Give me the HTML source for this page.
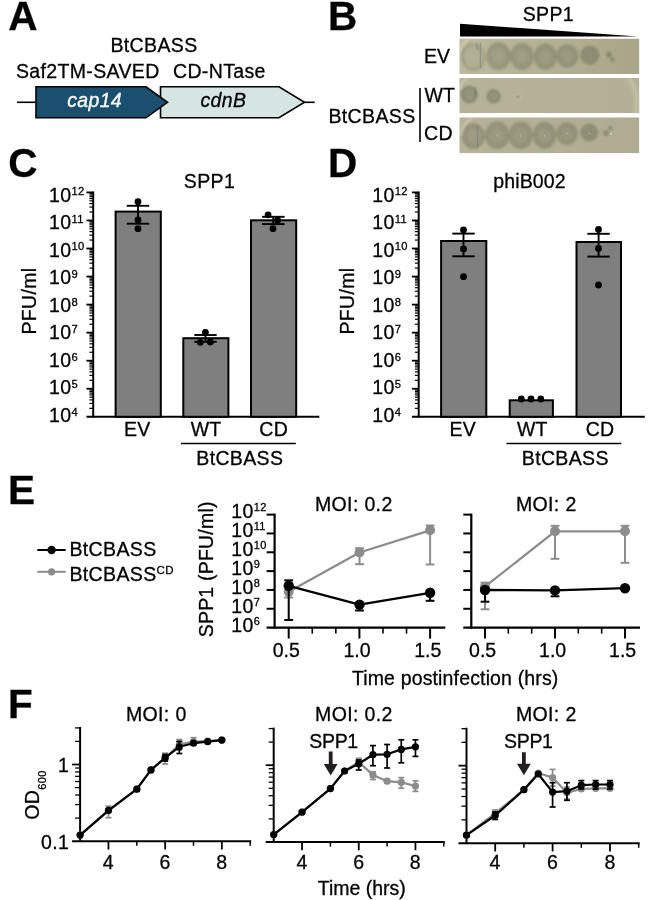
<!DOCTYPE html>
<html lang="en"><head><meta charset="utf-8"><title>BtCBASS figure</title>
<style>html,body{margin:0;padding:0;background:#fff;}body{width:660px;height:900px;overflow:hidden;}svg{display:block;}svg text{font-family:"Liberation Sans", Arial, Helvetica, sans-serif;letter-spacing:0.35px;stroke:#000;stroke-width:0.3px;}</style>
</head><body>
<svg width="660" height="900" viewBox="0 0 660 900">
<rect width="660" height="900" fill="#fff"/>
<g opacity="0.999">
<defs>
<linearGradient id="plateBg1" x1="0" y1="0" x2="1" y2="0"><stop offset="0" stop-color="#bdb99c"/><stop offset="0.45" stop-color="#b5b194"/><stop offset="1" stop-color="#a9a589"/></linearGradient>
<linearGradient id="plateBg2" x1="0" y1="0" x2="1" y2="0"><stop offset="0" stop-color="#b6b297"/><stop offset="0.6" stop-color="#b5b197"/><stop offset="1" stop-color="#b4b096"/></linearGradient>
<linearGradient id="plateBg3" x1="0" y1="0" x2="1" y2="0"><stop offset="0" stop-color="#b7b398"/><stop offset="0.5" stop-color="#b3af94"/><stop offset="1" stop-color="#afab90"/></linearGradient>
<radialGradient id="spotA"><stop offset="0" stop-color="#48493a" stop-opacity="0.2"/><stop offset="0.5" stop-color="#48493a" stop-opacity="0.21"/><stop offset="0.62" stop-color="#48493a" stop-opacity="0.27"/><stop offset="0.93" stop-color="#48493a" stop-opacity="0.27"/><stop offset="1" stop-color="#48493a" stop-opacity="0.15"/></radialGradient>
<radialGradient id="spotA3"><stop offset="0" stop-color="#48493a" stop-opacity="0.2"/><stop offset="0.45" stop-color="#48493a" stop-opacity="0.22"/><stop offset="0.58" stop-color="#48493a" stop-opacity="0.29"/><stop offset="0.93" stop-color="#48493a" stop-opacity="0.29"/><stop offset="1" stop-color="#48493a" stop-opacity="0.16"/></radialGradient>
<radialGradient id="spotL"><stop offset="0" stop-color="#48493a" stop-opacity="0.06"/><stop offset="0.7" stop-color="#48493a" stop-opacity="0.09"/><stop offset="0.9" stop-color="#48493a" stop-opacity="0.23"/><stop offset="1" stop-color="#48493a" stop-opacity="0.12"/></radialGradient>
<radialGradient id="spotB"><stop offset="0" stop-color="#45473a" stop-opacity="0.3"/><stop offset="0.85" stop-color="#45473a" stop-opacity="0.32"/><stop offset="1" stop-color="#45473a" stop-opacity="0.15"/></radialGradient>
<radialGradient id="spotW"><stop offset="0" stop-color="#45473a" stop-opacity="0.25"/><stop offset="0.6" stop-color="#45473a" stop-opacity="0.3"/><stop offset="0.9" stop-color="#45473a" stop-opacity="0.42"/><stop offset="1" stop-color="#45473a" stop-opacity="0.2"/></radialGradient>
<radialGradient id="spotD"><stop offset="0" stop-color="#45473a" stop-opacity="0.4"/><stop offset="1" stop-color="#45473a" stop-opacity="0.25"/></radialGradient>
<radialGradient id="spotC"><stop offset="0" stop-color="#4b4b40" stop-opacity="0.8"/><stop offset="1" stop-color="#4b4b40" stop-opacity="0.3"/></radialGradient>
<filter id="blur1" x="-20%" y="-20%" width="140%" height="140%"><feGaussianBlur stdDeviation="0.8"/></filter>
<filter id="blur2" x="-30%" y="-30%" width="160%" height="160%"><feGaussianBlur stdDeviation="1.5"/></filter>
</defs>
<text x="8.20" y="29.80" font-size="40.5" font-weight="bold">A</text>
<text x="110.50" y="51.80" font-size="19.5">BtCBASS</text>
<text x="16.00" y="77.50" font-size="19.5">Saf2TM-SAVED</text>
<text x="173.00" y="77.50" font-size="19.5">CD-NTase</text>
<line x1="17.00" y1="102.30" x2="36.00" y2="102.30" stroke="#000" stroke-width="1.6" stroke-linecap="butt"/>
<line x1="303.00" y1="102.30" x2="314.70" y2="102.30" stroke="#000" stroke-width="1.6" stroke-linecap="butt"/>
<polygon points="160.5,86.8 279,86.8 304.5,102.3 279,117.8 160.5,117.8" fill="#d5e5e1" stroke="#000" stroke-width="1.6" stroke-linejoin="miter"/>
<polygon points="36,86.8 146,86.8 167.5,102.3 146,117.8 36,117.8" fill="#1b4f6f" stroke="#000" stroke-width="1.6" stroke-linejoin="miter"/>
<text x="94.60" y="107.00" font-size="19.5" text-anchor="middle" font-style="italic" style="fill:#fff;stroke:#fff">cap14</text>
<text x="223.40" y="107.00" font-size="19.5" text-anchor="middle" font-style="italic">cdnB</text>
<text x="327.90" y="29.80" font-size="40.5" font-weight="bold">B</text>
<text x="548.40" y="21.30" font-size="19.5" text-anchor="middle">SPP1</text>
<polygon points="460,23.8 460,36.4 638,36.4" fill="#000"/>
<text x="424.00" y="62.50" font-size="19.5" style="letter-spacing:0px">EV</text>
<text x="424.50" y="102.00" font-size="19.5" style="letter-spacing:0px">WT</text>
<text x="424.00" y="140.00" font-size="19.5">CD</text>
<text x="328.50" y="122.50" font-size="19.5">BtCBASS</text>
<line x1="420.00" y1="88.00" x2="420.00" y2="142.00" stroke="#000" stroke-width="1.6" stroke-linecap="butt"/>
<defs>
<clipPath id="clip0"><rect x="459.3" y="38.5" width="180.1" height="35.5"/></clipPath>
<clipPath id="clip1"><rect x="459.3" y="77.9" width="180.1" height="35.3"/></clipPath>
<clipPath id="clip2"><rect x="459.3" y="117.3" width="180.1" height="36.0"/></clipPath>
</defs>
<g clip-path="url(#clip0)">
<rect x="459.3" y="38.5" width="180.1" height="35.5" fill="url(#plateBg1)"/>
<ellipse cx="473.2" cy="57.1" rx="12.3" ry="14.2" fill="url(#spotL)" filter="url(#blur1)"/>
<ellipse cx="498.5" cy="56.1" rx="12.6" ry="14.3" fill="url(#spotA)" filter="url(#blur1)"/>
<ellipse cx="522" cy="56.6" rx="12.2" ry="13.8" fill="url(#spotA)" filter="url(#blur1)"/>
<ellipse cx="545.3" cy="56.6" rx="11.8" ry="13.4" fill="url(#spotA)" filter="url(#blur1)"/>
<ellipse cx="567.3" cy="56.1" rx="11.3" ry="12" fill="url(#spotA)" filter="url(#blur1)"/>
<ellipse cx="589.9" cy="55.2" rx="10" ry="10" fill="url(#spotB)" filter="url(#blur1)"/>
<ellipse cx="608.8" cy="54.5" rx="3.1" ry="3.1" fill="url(#spotD)" filter="url(#blur1)"/>
<ellipse cx="612.4" cy="59.5" rx="2.4" ry="2.4" fill="url(#spotD)" filter="url(#blur1)"/>
</g>
<g clip-path="url(#clip0)">
<path d="M460.3,52 Q462,42 470,38.5" fill="none" stroke="#d8d6c4" stroke-width="1.6" opacity="0.8" filter="url(#blur1)"/>
<path d="M463.5,48 Q461.5,57 465,65" fill="none" stroke="#7d8587" stroke-width="1.2" opacity="0.55" filter="url(#blur1)"/>
<line x1="480.20" y1="43.00" x2="480.40" y2="68.00" stroke="#7e8a8e" stroke-width="0.9" stroke-linecap="butt"/>
<line x1="476.50" y1="43.50" x2="477.50" y2="50.00" stroke="#8a9496" stroke-width="1.5" stroke-linecap="butt"/>
</g>
<g clip-path="url(#clip1)">
<rect x="459.3" y="77.9" width="180.1" height="35.3" fill="url(#plateBg2)"/>
<ellipse cx="469.3" cy="94.5" rx="8.8" ry="8.8" fill="url(#spotW)" filter="url(#blur1)"/>
<ellipse cx="493.6" cy="96.4" rx="7.3" ry="7.3" fill="url(#spotW)" filter="url(#blur1)"/>
<ellipse cx="517.8" cy="96.7" rx="1.3" ry="1.3" fill="url(#spotC)" filter="url(#blur1)"/>
</g>
<g clip-path="url(#clip1)">
<path d="M459.8,90 Q461,81 468,78" fill="none" stroke="#d8d6c4" stroke-width="1.6" opacity="0.8" filter="url(#blur1)"/>
<path d="M474.5,87.5 L476.5,96" fill="none" stroke="#5f6f7a" stroke-width="1.3" opacity="0.7" filter="url(#blur1)"/>
<path d="M628,78 Q640,92 636,113" fill="none" stroke="#c6c3ab" stroke-width="5" opacity="0.7" filter="url(#blur2)"/>
<circle cx="517.8" cy="96.7" r="3.4" fill="none" stroke="#c4c1a8" stroke-width="1" opacity="0.7" filter="url(#blur1)"/>
</g>
<g clip-path="url(#clip2)">
<rect x="459.3" y="117.3" width="180.1" height="36.0" fill="url(#plateBg3)"/>
<ellipse cx="473.4" cy="136" rx="11.8" ry="13.2" fill="url(#spotA3)" filter="url(#blur1)"/>
<ellipse cx="497.2" cy="135.3" rx="12.6" ry="14.2" fill="url(#spotA3)" filter="url(#blur1)"/>
<ellipse cx="520.8" cy="135.3" rx="12.3" ry="14" fill="url(#spotA3)" filter="url(#blur1)"/>
<ellipse cx="544.6" cy="135.3" rx="12" ry="13.6" fill="url(#spotA3)" filter="url(#blur1)"/>
<ellipse cx="567" cy="133.6" rx="11" ry="11.6" fill="url(#spotA3)" filter="url(#blur1)"/>
<ellipse cx="589.2" cy="132.5" rx="9.2" ry="9.2" fill="url(#spotB)" filter="url(#blur1)"/>
<ellipse cx="606" cy="133.2" rx="3" ry="3" fill="url(#spotD)" filter="url(#blur1)"/>
<ellipse cx="610.3" cy="128" rx="2.3" ry="2.3" fill="url(#spotD)" filter="url(#blur1)"/>
</g>
<g clip-path="url(#clip2)">
<path d="M461,135 Q462,124 472.5,117.5" fill="none" stroke="#d8d6c4" stroke-width="1.6" opacity="0.8" filter="url(#blur1)"/>
<line x1="477.00" y1="124.80" x2="477.60" y2="148.20" stroke="#75838a" stroke-width="0.9" stroke-linecap="butt"/>
<circle cx="497.20" cy="135.80" r="0.6" fill="#cfcfc0"/>
<circle cx="520.80" cy="135.80" r="0.6" fill="#cfcfc0"/>
<circle cx="544.60" cy="135.80" r="0.6" fill="#cfcfc0"/>
<circle cx="567.00" cy="133.40" r="0.6" fill="#cfcfc0"/>
<circle cx="589.20" cy="133.40" r="0.6" fill="#cfcfc0"/>
<circle cx="611.20" cy="134.00" r="0.9" fill="#dedccc"/>
</g>
<text x="8.30" y="177.20" font-size="40.5" font-weight="bold">C</text>
<line x1="93.20" y1="191.50" x2="93.20" y2="417.70" stroke="#000" stroke-width="2" stroke-linecap="butt"/>
<line x1="86.40" y1="416.80" x2="319.30" y2="416.80" stroke="#000" stroke-width="2" stroke-linecap="butt"/>
<line x1="89.40" y1="408.36" x2="93.20" y2="408.36" stroke="#000" stroke-width="1.2" stroke-linecap="butt"/>
<line x1="89.40" y1="403.42" x2="93.20" y2="403.42" stroke="#000" stroke-width="1.2" stroke-linecap="butt"/>
<line x1="89.40" y1="399.91" x2="93.20" y2="399.91" stroke="#000" stroke-width="1.2" stroke-linecap="butt"/>
<line x1="89.40" y1="397.19" x2="93.20" y2="397.19" stroke="#000" stroke-width="1.2" stroke-linecap="butt"/>
<line x1="89.40" y1="394.97" x2="93.20" y2="394.97" stroke="#000" stroke-width="1.2" stroke-linecap="butt"/>
<line x1="89.40" y1="393.09" x2="93.20" y2="393.09" stroke="#000" stroke-width="1.2" stroke-linecap="butt"/>
<line x1="89.40" y1="391.47" x2="93.20" y2="391.47" stroke="#000" stroke-width="1.2" stroke-linecap="butt"/>
<line x1="89.40" y1="390.03" x2="93.20" y2="390.03" stroke="#000" stroke-width="1.2" stroke-linecap="butt"/>
<line x1="86.40" y1="388.75" x2="93.20" y2="388.75" stroke="#000" stroke-width="1.8" stroke-linecap="butt"/>
<line x1="89.40" y1="380.31" x2="93.20" y2="380.31" stroke="#000" stroke-width="1.2" stroke-linecap="butt"/>
<line x1="89.40" y1="375.37" x2="93.20" y2="375.37" stroke="#000" stroke-width="1.2" stroke-linecap="butt"/>
<line x1="89.40" y1="371.86" x2="93.20" y2="371.86" stroke="#000" stroke-width="1.2" stroke-linecap="butt"/>
<line x1="89.40" y1="369.14" x2="93.20" y2="369.14" stroke="#000" stroke-width="1.2" stroke-linecap="butt"/>
<line x1="89.40" y1="366.92" x2="93.20" y2="366.92" stroke="#000" stroke-width="1.2" stroke-linecap="butt"/>
<line x1="89.40" y1="365.04" x2="93.20" y2="365.04" stroke="#000" stroke-width="1.2" stroke-linecap="butt"/>
<line x1="89.40" y1="363.42" x2="93.20" y2="363.42" stroke="#000" stroke-width="1.2" stroke-linecap="butt"/>
<line x1="89.40" y1="361.98" x2="93.20" y2="361.98" stroke="#000" stroke-width="1.2" stroke-linecap="butt"/>
<line x1="86.40" y1="360.70" x2="93.20" y2="360.70" stroke="#000" stroke-width="1.8" stroke-linecap="butt"/>
<line x1="89.40" y1="352.26" x2="93.20" y2="352.26" stroke="#000" stroke-width="1.2" stroke-linecap="butt"/>
<line x1="89.40" y1="347.32" x2="93.20" y2="347.32" stroke="#000" stroke-width="1.2" stroke-linecap="butt"/>
<line x1="89.40" y1="343.81" x2="93.20" y2="343.81" stroke="#000" stroke-width="1.2" stroke-linecap="butt"/>
<line x1="89.40" y1="341.09" x2="93.20" y2="341.09" stroke="#000" stroke-width="1.2" stroke-linecap="butt"/>
<line x1="89.40" y1="338.87" x2="93.20" y2="338.87" stroke="#000" stroke-width="1.2" stroke-linecap="butt"/>
<line x1="89.40" y1="336.99" x2="93.20" y2="336.99" stroke="#000" stroke-width="1.2" stroke-linecap="butt"/>
<line x1="89.40" y1="335.37" x2="93.20" y2="335.37" stroke="#000" stroke-width="1.2" stroke-linecap="butt"/>
<line x1="89.40" y1="333.93" x2="93.20" y2="333.93" stroke="#000" stroke-width="1.2" stroke-linecap="butt"/>
<line x1="86.40" y1="332.65" x2="93.20" y2="332.65" stroke="#000" stroke-width="1.8" stroke-linecap="butt"/>
<line x1="89.40" y1="324.21" x2="93.20" y2="324.21" stroke="#000" stroke-width="1.2" stroke-linecap="butt"/>
<line x1="89.40" y1="319.27" x2="93.20" y2="319.27" stroke="#000" stroke-width="1.2" stroke-linecap="butt"/>
<line x1="89.40" y1="315.76" x2="93.20" y2="315.76" stroke="#000" stroke-width="1.2" stroke-linecap="butt"/>
<line x1="89.40" y1="313.04" x2="93.20" y2="313.04" stroke="#000" stroke-width="1.2" stroke-linecap="butt"/>
<line x1="89.40" y1="310.82" x2="93.20" y2="310.82" stroke="#000" stroke-width="1.2" stroke-linecap="butt"/>
<line x1="89.40" y1="308.94" x2="93.20" y2="308.94" stroke="#000" stroke-width="1.2" stroke-linecap="butt"/>
<line x1="89.40" y1="307.32" x2="93.20" y2="307.32" stroke="#000" stroke-width="1.2" stroke-linecap="butt"/>
<line x1="89.40" y1="305.88" x2="93.20" y2="305.88" stroke="#000" stroke-width="1.2" stroke-linecap="butt"/>
<line x1="86.40" y1="304.60" x2="93.20" y2="304.60" stroke="#000" stroke-width="1.8" stroke-linecap="butt"/>
<line x1="89.40" y1="296.16" x2="93.20" y2="296.16" stroke="#000" stroke-width="1.2" stroke-linecap="butt"/>
<line x1="89.40" y1="291.22" x2="93.20" y2="291.22" stroke="#000" stroke-width="1.2" stroke-linecap="butt"/>
<line x1="89.40" y1="287.71" x2="93.20" y2="287.71" stroke="#000" stroke-width="1.2" stroke-linecap="butt"/>
<line x1="89.40" y1="284.99" x2="93.20" y2="284.99" stroke="#000" stroke-width="1.2" stroke-linecap="butt"/>
<line x1="89.40" y1="282.77" x2="93.20" y2="282.77" stroke="#000" stroke-width="1.2" stroke-linecap="butt"/>
<line x1="89.40" y1="280.89" x2="93.20" y2="280.89" stroke="#000" stroke-width="1.2" stroke-linecap="butt"/>
<line x1="89.40" y1="279.27" x2="93.20" y2="279.27" stroke="#000" stroke-width="1.2" stroke-linecap="butt"/>
<line x1="89.40" y1="277.83" x2="93.20" y2="277.83" stroke="#000" stroke-width="1.2" stroke-linecap="butt"/>
<line x1="86.40" y1="276.55" x2="93.20" y2="276.55" stroke="#000" stroke-width="1.8" stroke-linecap="butt"/>
<line x1="89.40" y1="268.11" x2="93.20" y2="268.11" stroke="#000" stroke-width="1.2" stroke-linecap="butt"/>
<line x1="89.40" y1="263.17" x2="93.20" y2="263.17" stroke="#000" stroke-width="1.2" stroke-linecap="butt"/>
<line x1="89.40" y1="259.66" x2="93.20" y2="259.66" stroke="#000" stroke-width="1.2" stroke-linecap="butt"/>
<line x1="89.40" y1="256.94" x2="93.20" y2="256.94" stroke="#000" stroke-width="1.2" stroke-linecap="butt"/>
<line x1="89.40" y1="254.72" x2="93.20" y2="254.72" stroke="#000" stroke-width="1.2" stroke-linecap="butt"/>
<line x1="89.40" y1="252.84" x2="93.20" y2="252.84" stroke="#000" stroke-width="1.2" stroke-linecap="butt"/>
<line x1="89.40" y1="251.22" x2="93.20" y2="251.22" stroke="#000" stroke-width="1.2" stroke-linecap="butt"/>
<line x1="89.40" y1="249.78" x2="93.20" y2="249.78" stroke="#000" stroke-width="1.2" stroke-linecap="butt"/>
<line x1="86.40" y1="248.50" x2="93.20" y2="248.50" stroke="#000" stroke-width="1.8" stroke-linecap="butt"/>
<line x1="89.40" y1="240.06" x2="93.20" y2="240.06" stroke="#000" stroke-width="1.2" stroke-linecap="butt"/>
<line x1="89.40" y1="235.12" x2="93.20" y2="235.12" stroke="#000" stroke-width="1.2" stroke-linecap="butt"/>
<line x1="89.40" y1="231.61" x2="93.20" y2="231.61" stroke="#000" stroke-width="1.2" stroke-linecap="butt"/>
<line x1="89.40" y1="228.89" x2="93.20" y2="228.89" stroke="#000" stroke-width="1.2" stroke-linecap="butt"/>
<line x1="89.40" y1="226.67" x2="93.20" y2="226.67" stroke="#000" stroke-width="1.2" stroke-linecap="butt"/>
<line x1="89.40" y1="224.79" x2="93.20" y2="224.79" stroke="#000" stroke-width="1.2" stroke-linecap="butt"/>
<line x1="89.40" y1="223.17" x2="93.20" y2="223.17" stroke="#000" stroke-width="1.2" stroke-linecap="butt"/>
<line x1="89.40" y1="221.73" x2="93.20" y2="221.73" stroke="#000" stroke-width="1.2" stroke-linecap="butt"/>
<line x1="86.40" y1="220.45" x2="93.20" y2="220.45" stroke="#000" stroke-width="1.8" stroke-linecap="butt"/>
<line x1="89.40" y1="212.01" x2="93.20" y2="212.01" stroke="#000" stroke-width="1.2" stroke-linecap="butt"/>
<line x1="89.40" y1="207.07" x2="93.20" y2="207.07" stroke="#000" stroke-width="1.2" stroke-linecap="butt"/>
<line x1="89.40" y1="203.56" x2="93.20" y2="203.56" stroke="#000" stroke-width="1.2" stroke-linecap="butt"/>
<line x1="89.40" y1="200.84" x2="93.20" y2="200.84" stroke="#000" stroke-width="1.2" stroke-linecap="butt"/>
<line x1="89.40" y1="198.62" x2="93.20" y2="198.62" stroke="#000" stroke-width="1.2" stroke-linecap="butt"/>
<line x1="89.40" y1="196.74" x2="93.20" y2="196.74" stroke="#000" stroke-width="1.2" stroke-linecap="butt"/>
<line x1="89.40" y1="195.12" x2="93.20" y2="195.12" stroke="#000" stroke-width="1.2" stroke-linecap="butt"/>
<line x1="89.40" y1="193.68" x2="93.20" y2="193.68" stroke="#000" stroke-width="1.2" stroke-linecap="butt"/>
<line x1="86.40" y1="192.40" x2="93.20" y2="192.40" stroke="#000" stroke-width="1.8" stroke-linecap="butt"/>
<text x="49.00" y="422.00" font-size="19.5">10<tspan font-size="11.2" dy="-6.2">4</tspan></text>
<text x="49.00" y="394.44" font-size="19.5">10<tspan font-size="11.2" dy="-6.2">5</tspan></text>
<text x="49.00" y="366.88" font-size="19.5">10<tspan font-size="11.2" dy="-6.2">6</tspan></text>
<text x="49.00" y="339.32" font-size="19.5">10<tspan font-size="11.2" dy="-6.2">7</tspan></text>
<text x="49.00" y="311.76" font-size="19.5">10<tspan font-size="11.2" dy="-6.2">8</tspan></text>
<text x="49.00" y="284.20" font-size="19.5">10<tspan font-size="11.2" dy="-6.2">9</tspan></text>
<text x="49.00" y="256.64" font-size="19.5">10<tspan font-size="11.2" dy="-6.2">10</tspan></text>
<text x="49.00" y="229.08" font-size="19.5">10<tspan font-size="11.2" dy="-6.2">11</tspan></text>
<text x="49.00" y="201.52" font-size="19.5">10<tspan font-size="11.2" dy="-6.2">12</tspan></text>
<text x="35.80" y="301.00" font-size="19.5" text-anchor="middle" transform="rotate(-90 35.80 301.00)">PFU/ml</text>
<text x="209.50" y="187.50" font-size="19.5" text-anchor="middle">SPP1</text>
<rect x="115.60" y="211.60" width="45.20" height="205.20" fill="#7f7f7f" stroke="#000" stroke-width="2"/>
<line x1="138.00" y1="205.80" x2="138.00" y2="223.70" stroke="#000" stroke-width="1.9" stroke-linecap="butt"/>
<line x1="126.80" y1="205.80" x2="149.20" y2="205.80" stroke="#000" stroke-width="1.9" stroke-linecap="butt"/>
<line x1="126.80" y1="223.70" x2="149.20" y2="223.70" stroke="#000" stroke-width="1.9" stroke-linecap="butt"/>
<circle cx="138.00" cy="201.70" r="3.4" fill="#000"/>
<circle cx="138.00" cy="220.00" r="3.4" fill="#000"/>
<circle cx="138.00" cy="228.70" r="3.4" fill="#000"/>
<rect x="183.30" y="338.20" width="45.10" height="78.60" fill="#7f7f7f" stroke="#000" stroke-width="2"/>
<line x1="205.50" y1="335.00" x2="205.50" y2="341.80" stroke="#000" stroke-width="1.9" stroke-linecap="butt"/>
<line x1="194.30" y1="335.00" x2="216.70" y2="335.00" stroke="#000" stroke-width="1.9" stroke-linecap="butt"/>
<line x1="194.30" y1="341.80" x2="216.70" y2="341.80" stroke="#000" stroke-width="1.9" stroke-linecap="butt"/>
<circle cx="205.40" cy="332.30" r="3.4" fill="#000"/>
<circle cx="200.30" cy="342.30" r="3.4" fill="#000"/>
<circle cx="210.30" cy="342.00" r="3.4" fill="#000"/>
<rect x="251.00" y="220.30" width="45.20" height="196.50" fill="#7f7f7f" stroke="#000" stroke-width="2"/>
<line x1="273.30" y1="216.80" x2="273.30" y2="224.10" stroke="#000" stroke-width="1.9" stroke-linecap="butt"/>
<line x1="262.00" y1="216.80" x2="284.60" y2="216.80" stroke="#000" stroke-width="1.9" stroke-linecap="butt"/>
<line x1="262.00" y1="224.10" x2="284.60" y2="224.10" stroke="#000" stroke-width="1.9" stroke-linecap="butt"/>
<circle cx="268.10" cy="214.80" r="3.4" fill="#000"/>
<circle cx="277.60" cy="220.20" r="3.4" fill="#000"/>
<circle cx="273.00" cy="228.70" r="3.4" fill="#000"/>
<text x="137.30" y="436.00" font-size="19.5" text-anchor="middle">EV</text>
<text x="205.90" y="436.00" font-size="19.5" text-anchor="middle" style="letter-spacing:0px">WT</text>
<text x="273.80" y="436.00" font-size="19.5" text-anchor="middle">CD</text>
<line x1="181.00" y1="443.50" x2="295.80" y2="443.50" stroke="#000" stroke-width="1.6" stroke-linecap="butt"/>
<text x="239.80" y="465.00" font-size="19.5" text-anchor="middle">BtCBASS</text>
<text x="327.90" y="177.20" font-size="40.5" font-weight="bold">D</text>
<line x1="418.70" y1="191.50" x2="418.70" y2="417.70" stroke="#000" stroke-width="2" stroke-linecap="butt"/>
<line x1="411.90" y1="416.80" x2="644.80" y2="416.80" stroke="#000" stroke-width="2" stroke-linecap="butt"/>
<line x1="414.90" y1="408.36" x2="418.70" y2="408.36" stroke="#000" stroke-width="1.2" stroke-linecap="butt"/>
<line x1="414.90" y1="403.42" x2="418.70" y2="403.42" stroke="#000" stroke-width="1.2" stroke-linecap="butt"/>
<line x1="414.90" y1="399.91" x2="418.70" y2="399.91" stroke="#000" stroke-width="1.2" stroke-linecap="butt"/>
<line x1="414.90" y1="397.19" x2="418.70" y2="397.19" stroke="#000" stroke-width="1.2" stroke-linecap="butt"/>
<line x1="414.90" y1="394.97" x2="418.70" y2="394.97" stroke="#000" stroke-width="1.2" stroke-linecap="butt"/>
<line x1="414.90" y1="393.09" x2="418.70" y2="393.09" stroke="#000" stroke-width="1.2" stroke-linecap="butt"/>
<line x1="414.90" y1="391.47" x2="418.70" y2="391.47" stroke="#000" stroke-width="1.2" stroke-linecap="butt"/>
<line x1="414.90" y1="390.03" x2="418.70" y2="390.03" stroke="#000" stroke-width="1.2" stroke-linecap="butt"/>
<line x1="411.90" y1="388.75" x2="418.70" y2="388.75" stroke="#000" stroke-width="1.8" stroke-linecap="butt"/>
<line x1="414.90" y1="380.31" x2="418.70" y2="380.31" stroke="#000" stroke-width="1.2" stroke-linecap="butt"/>
<line x1="414.90" y1="375.37" x2="418.70" y2="375.37" stroke="#000" stroke-width="1.2" stroke-linecap="butt"/>
<line x1="414.90" y1="371.86" x2="418.70" y2="371.86" stroke="#000" stroke-width="1.2" stroke-linecap="butt"/>
<line x1="414.90" y1="369.14" x2="418.70" y2="369.14" stroke="#000" stroke-width="1.2" stroke-linecap="butt"/>
<line x1="414.90" y1="366.92" x2="418.70" y2="366.92" stroke="#000" stroke-width="1.2" stroke-linecap="butt"/>
<line x1="414.90" y1="365.04" x2="418.70" y2="365.04" stroke="#000" stroke-width="1.2" stroke-linecap="butt"/>
<line x1="414.90" y1="363.42" x2="418.70" y2="363.42" stroke="#000" stroke-width="1.2" stroke-linecap="butt"/>
<line x1="414.90" y1="361.98" x2="418.70" y2="361.98" stroke="#000" stroke-width="1.2" stroke-linecap="butt"/>
<line x1="411.90" y1="360.70" x2="418.70" y2="360.70" stroke="#000" stroke-width="1.8" stroke-linecap="butt"/>
<line x1="414.90" y1="352.26" x2="418.70" y2="352.26" stroke="#000" stroke-width="1.2" stroke-linecap="butt"/>
<line x1="414.90" y1="347.32" x2="418.70" y2="347.32" stroke="#000" stroke-width="1.2" stroke-linecap="butt"/>
<line x1="414.90" y1="343.81" x2="418.70" y2="343.81" stroke="#000" stroke-width="1.2" stroke-linecap="butt"/>
<line x1="414.90" y1="341.09" x2="418.70" y2="341.09" stroke="#000" stroke-width="1.2" stroke-linecap="butt"/>
<line x1="414.90" y1="338.87" x2="418.70" y2="338.87" stroke="#000" stroke-width="1.2" stroke-linecap="butt"/>
<line x1="414.90" y1="336.99" x2="418.70" y2="336.99" stroke="#000" stroke-width="1.2" stroke-linecap="butt"/>
<line x1="414.90" y1="335.37" x2="418.70" y2="335.37" stroke="#000" stroke-width="1.2" stroke-linecap="butt"/>
<line x1="414.90" y1="333.93" x2="418.70" y2="333.93" stroke="#000" stroke-width="1.2" stroke-linecap="butt"/>
<line x1="411.90" y1="332.65" x2="418.70" y2="332.65" stroke="#000" stroke-width="1.8" stroke-linecap="butt"/>
<line x1="414.90" y1="324.21" x2="418.70" y2="324.21" stroke="#000" stroke-width="1.2" stroke-linecap="butt"/>
<line x1="414.90" y1="319.27" x2="418.70" y2="319.27" stroke="#000" stroke-width="1.2" stroke-linecap="butt"/>
<line x1="414.90" y1="315.76" x2="418.70" y2="315.76" stroke="#000" stroke-width="1.2" stroke-linecap="butt"/>
<line x1="414.90" y1="313.04" x2="418.70" y2="313.04" stroke="#000" stroke-width="1.2" stroke-linecap="butt"/>
<line x1="414.90" y1="310.82" x2="418.70" y2="310.82" stroke="#000" stroke-width="1.2" stroke-linecap="butt"/>
<line x1="414.90" y1="308.94" x2="418.70" y2="308.94" stroke="#000" stroke-width="1.2" stroke-linecap="butt"/>
<line x1="414.90" y1="307.32" x2="418.70" y2="307.32" stroke="#000" stroke-width="1.2" stroke-linecap="butt"/>
<line x1="414.90" y1="305.88" x2="418.70" y2="305.88" stroke="#000" stroke-width="1.2" stroke-linecap="butt"/>
<line x1="411.90" y1="304.60" x2="418.70" y2="304.60" stroke="#000" stroke-width="1.8" stroke-linecap="butt"/>
<line x1="414.90" y1="296.16" x2="418.70" y2="296.16" stroke="#000" stroke-width="1.2" stroke-linecap="butt"/>
<line x1="414.90" y1="291.22" x2="418.70" y2="291.22" stroke="#000" stroke-width="1.2" stroke-linecap="butt"/>
<line x1="414.90" y1="287.71" x2="418.70" y2="287.71" stroke="#000" stroke-width="1.2" stroke-linecap="butt"/>
<line x1="414.90" y1="284.99" x2="418.70" y2="284.99" stroke="#000" stroke-width="1.2" stroke-linecap="butt"/>
<line x1="414.90" y1="282.77" x2="418.70" y2="282.77" stroke="#000" stroke-width="1.2" stroke-linecap="butt"/>
<line x1="414.90" y1="280.89" x2="418.70" y2="280.89" stroke="#000" stroke-width="1.2" stroke-linecap="butt"/>
<line x1="414.90" y1="279.27" x2="418.70" y2="279.27" stroke="#000" stroke-width="1.2" stroke-linecap="butt"/>
<line x1="414.90" y1="277.83" x2="418.70" y2="277.83" stroke="#000" stroke-width="1.2" stroke-linecap="butt"/>
<line x1="411.90" y1="276.55" x2="418.70" y2="276.55" stroke="#000" stroke-width="1.8" stroke-linecap="butt"/>
<line x1="414.90" y1="268.11" x2="418.70" y2="268.11" stroke="#000" stroke-width="1.2" stroke-linecap="butt"/>
<line x1="414.90" y1="263.17" x2="418.70" y2="263.17" stroke="#000" stroke-width="1.2" stroke-linecap="butt"/>
<line x1="414.90" y1="259.66" x2="418.70" y2="259.66" stroke="#000" stroke-width="1.2" stroke-linecap="butt"/>
<line x1="414.90" y1="256.94" x2="418.70" y2="256.94" stroke="#000" stroke-width="1.2" stroke-linecap="butt"/>
<line x1="414.90" y1="254.72" x2="418.70" y2="254.72" stroke="#000" stroke-width="1.2" stroke-linecap="butt"/>
<line x1="414.90" y1="252.84" x2="418.70" y2="252.84" stroke="#000" stroke-width="1.2" stroke-linecap="butt"/>
<line x1="414.90" y1="251.22" x2="418.70" y2="251.22" stroke="#000" stroke-width="1.2" stroke-linecap="butt"/>
<line x1="414.90" y1="249.78" x2="418.70" y2="249.78" stroke="#000" stroke-width="1.2" stroke-linecap="butt"/>
<line x1="411.90" y1="248.50" x2="418.70" y2="248.50" stroke="#000" stroke-width="1.8" stroke-linecap="butt"/>
<line x1="414.90" y1="240.06" x2="418.70" y2="240.06" stroke="#000" stroke-width="1.2" stroke-linecap="butt"/>
<line x1="414.90" y1="235.12" x2="418.70" y2="235.12" stroke="#000" stroke-width="1.2" stroke-linecap="butt"/>
<line x1="414.90" y1="231.61" x2="418.70" y2="231.61" stroke="#000" stroke-width="1.2" stroke-linecap="butt"/>
<line x1="414.90" y1="228.89" x2="418.70" y2="228.89" stroke="#000" stroke-width="1.2" stroke-linecap="butt"/>
<line x1="414.90" y1="226.67" x2="418.70" y2="226.67" stroke="#000" stroke-width="1.2" stroke-linecap="butt"/>
<line x1="414.90" y1="224.79" x2="418.70" y2="224.79" stroke="#000" stroke-width="1.2" stroke-linecap="butt"/>
<line x1="414.90" y1="223.17" x2="418.70" y2="223.17" stroke="#000" stroke-width="1.2" stroke-linecap="butt"/>
<line x1="414.90" y1="221.73" x2="418.70" y2="221.73" stroke="#000" stroke-width="1.2" stroke-linecap="butt"/>
<line x1="411.90" y1="220.45" x2="418.70" y2="220.45" stroke="#000" stroke-width="1.8" stroke-linecap="butt"/>
<line x1="414.90" y1="212.01" x2="418.70" y2="212.01" stroke="#000" stroke-width="1.2" stroke-linecap="butt"/>
<line x1="414.90" y1="207.07" x2="418.70" y2="207.07" stroke="#000" stroke-width="1.2" stroke-linecap="butt"/>
<line x1="414.90" y1="203.56" x2="418.70" y2="203.56" stroke="#000" stroke-width="1.2" stroke-linecap="butt"/>
<line x1="414.90" y1="200.84" x2="418.70" y2="200.84" stroke="#000" stroke-width="1.2" stroke-linecap="butt"/>
<line x1="414.90" y1="198.62" x2="418.70" y2="198.62" stroke="#000" stroke-width="1.2" stroke-linecap="butt"/>
<line x1="414.90" y1="196.74" x2="418.70" y2="196.74" stroke="#000" stroke-width="1.2" stroke-linecap="butt"/>
<line x1="414.90" y1="195.12" x2="418.70" y2="195.12" stroke="#000" stroke-width="1.2" stroke-linecap="butt"/>
<line x1="414.90" y1="193.68" x2="418.70" y2="193.68" stroke="#000" stroke-width="1.2" stroke-linecap="butt"/>
<line x1="411.90" y1="192.40" x2="418.70" y2="192.40" stroke="#000" stroke-width="1.8" stroke-linecap="butt"/>
<text x="372.30" y="422.00" font-size="19.5">10<tspan font-size="11.2" dy="-6.2">4</tspan></text>
<text x="372.30" y="394.44" font-size="19.5">10<tspan font-size="11.2" dy="-6.2">5</tspan></text>
<text x="372.30" y="366.88" font-size="19.5">10<tspan font-size="11.2" dy="-6.2">6</tspan></text>
<text x="372.30" y="339.32" font-size="19.5">10<tspan font-size="11.2" dy="-6.2">7</tspan></text>
<text x="372.30" y="311.76" font-size="19.5">10<tspan font-size="11.2" dy="-6.2">8</tspan></text>
<text x="372.30" y="284.20" font-size="19.5">10<tspan font-size="11.2" dy="-6.2">9</tspan></text>
<text x="372.30" y="256.64" font-size="19.5">10<tspan font-size="11.2" dy="-6.2">10</tspan></text>
<text x="372.30" y="229.08" font-size="19.5">10<tspan font-size="11.2" dy="-6.2">11</tspan></text>
<text x="372.30" y="201.52" font-size="19.5">10<tspan font-size="11.2" dy="-6.2">12</tspan></text>
<text x="354.10" y="301.00" font-size="19.5" text-anchor="middle" transform="rotate(-90 354.10 301.00)">PFU/ml</text>
<text x="529.50" y="187.50" font-size="19.5" text-anchor="middle" style="letter-spacing:0.1px">phiB002</text>
<rect x="441.10" y="241.00" width="45.20" height="175.80" fill="#7f7f7f" stroke="#000" stroke-width="2"/>
<line x1="463.50" y1="233.60" x2="463.50" y2="256.30" stroke="#000" stroke-width="1.9" stroke-linecap="butt"/>
<line x1="452.30" y1="233.60" x2="474.70" y2="233.60" stroke="#000" stroke-width="1.9" stroke-linecap="butt"/>
<line x1="452.30" y1="256.30" x2="474.70" y2="256.30" stroke="#000" stroke-width="1.9" stroke-linecap="butt"/>
<circle cx="463.50" cy="230.00" r="3.4" fill="#000"/>
<circle cx="463.50" cy="248.90" r="3.4" fill="#000"/>
<circle cx="463.50" cy="276.70" r="3.4" fill="#000"/>
<rect x="509.70" y="400.30" width="43.20" height="16.50" fill="#7f7f7f" stroke="#000" stroke-width="2"/>
<circle cx="521.30" cy="399.00" r="3.4" fill="#000"/>
<circle cx="531.00" cy="399.00" r="3.4" fill="#000"/>
<circle cx="540.80" cy="399.00" r="3.4" fill="#000"/>
<rect x="576.50" y="242.00" width="44.50" height="174.80" fill="#7f7f7f" stroke="#000" stroke-width="2"/>
<line x1="598.60" y1="233.80" x2="598.60" y2="256.60" stroke="#000" stroke-width="1.9" stroke-linecap="butt"/>
<line x1="587.40" y1="233.80" x2="609.80" y2="233.80" stroke="#000" stroke-width="1.9" stroke-linecap="butt"/>
<line x1="587.40" y1="256.60" x2="609.80" y2="256.60" stroke="#000" stroke-width="1.9" stroke-linecap="butt"/>
<circle cx="598.50" cy="229.50" r="3.4" fill="#000"/>
<circle cx="598.50" cy="248.50" r="3.4" fill="#000"/>
<circle cx="598.50" cy="285.00" r="3.4" fill="#000"/>
<text x="462.80" y="436.00" font-size="19.5" text-anchor="middle">EV</text>
<text x="532.20" y="436.00" font-size="19.5" text-anchor="middle" style="letter-spacing:0px">WT</text>
<text x="600.10" y="436.00" font-size="19.5" text-anchor="middle">CD</text>
<line x1="506.50" y1="443.50" x2="621.30" y2="443.50" stroke="#000" stroke-width="1.6" stroke-linecap="butt"/>
<text x="565.30" y="465.00" font-size="19.5" text-anchor="middle">BtCBASS</text>
<text x="7.90" y="504.10" font-size="40.5" font-weight="bold">E</text>
<line x1="37.30" y1="550.00" x2="65.70" y2="550.00" stroke="#000" stroke-width="2" stroke-linecap="butt"/>
<circle cx="51.60" cy="550.00" r="4.2" fill="#000"/>
<text x="69.50" y="555.60" font-size="19.5">BtCBASS</text>
<line x1="37.30" y1="571.80" x2="65.70" y2="571.80" stroke="#8c8c8c" stroke-width="2" stroke-linecap="butt"/>
<circle cx="51.60" cy="571.80" r="3.6" fill="#8c8c8c"/>
<text x="69.5" y="580.5" font-size="19.5">BtCBASS<tspan font-size="11.5" dy="-6.2">CD</tspan></text>
<text x="213.20" y="569.30" font-size="19.5" text-anchor="middle" transform="rotate(-90 213.20 569.30)" style="letter-spacing:0.2px">SPP1 (PFU/ml)</text>
<line x1="274.60" y1="513.62" x2="274.60" y2="628.70" stroke="#000" stroke-width="2.2" stroke-linecap="butt"/>
<line x1="266.60" y1="627.60" x2="445.30" y2="627.60" stroke="#000" stroke-width="2.2" stroke-linecap="butt"/>
<line x1="266.60" y1="608.77" x2="274.60" y2="608.77" stroke="#000" stroke-width="2" stroke-linecap="butt"/>
<line x1="266.60" y1="589.94" x2="274.60" y2="589.94" stroke="#000" stroke-width="2" stroke-linecap="butt"/>
<line x1="266.60" y1="571.11" x2="274.60" y2="571.11" stroke="#000" stroke-width="2" stroke-linecap="butt"/>
<line x1="266.60" y1="552.28" x2="274.60" y2="552.28" stroke="#000" stroke-width="2" stroke-linecap="butt"/>
<line x1="266.60" y1="533.45" x2="274.60" y2="533.45" stroke="#000" stroke-width="2" stroke-linecap="butt"/>
<line x1="266.60" y1="514.62" x2="274.60" y2="514.62" stroke="#000" stroke-width="2" stroke-linecap="butt"/>
<line x1="288.70" y1="627.60" x2="288.70" y2="638.60" stroke="#000" stroke-width="2" stroke-linecap="butt"/>
<text x="286.30" y="657.30" font-size="19.5" text-anchor="middle" style="letter-spacing:0px">0.5</text>
<line x1="312.27" y1="627.60" x2="312.27" y2="633.60" stroke="#000" stroke-width="1.6" stroke-linecap="butt"/>
<line x1="335.83" y1="627.60" x2="335.83" y2="633.60" stroke="#000" stroke-width="1.6" stroke-linecap="butt"/>
<line x1="359.40" y1="627.60" x2="359.40" y2="638.60" stroke="#000" stroke-width="2" stroke-linecap="butt"/>
<text x="357.00" y="657.30" font-size="19.5" text-anchor="middle" style="letter-spacing:0px">1.0</text>
<line x1="382.97" y1="627.60" x2="382.97" y2="633.60" stroke="#000" stroke-width="1.6" stroke-linecap="butt"/>
<line x1="406.53" y1="627.60" x2="406.53" y2="633.60" stroke="#000" stroke-width="1.6" stroke-linecap="butt"/>
<line x1="430.10" y1="627.60" x2="430.10" y2="638.60" stroke="#000" stroke-width="2" stroke-linecap="butt"/>
<text x="427.70" y="657.30" font-size="19.5" text-anchor="middle" style="letter-spacing:0px">1.5</text>
<text x="353.80" y="511.00" font-size="19.5" text-anchor="middle">MOI: 0.2</text>
<text x="231.30" y="631.50" font-size="19.5">10<tspan font-size="11" dy="-6.5">6</tspan></text>
<text x="231.30" y="612.50" font-size="19.5">10<tspan font-size="11" dy="-6.5">7</tspan></text>
<text x="231.30" y="593.50" font-size="19.5">10<tspan font-size="11" dy="-6.5">8</tspan></text>
<text x="231.30" y="574.50" font-size="19.5">10<tspan font-size="11" dy="-6.5">9</tspan></text>
<text x="231.30" y="555.50" font-size="19.5">10<tspan font-size="11" dy="-6.5">10</tspan></text>
<text x="231.30" y="536.50" font-size="19.5">10<tspan font-size="11" dy="-6.5">11</tspan></text>
<text x="231.30" y="517.50" font-size="19.5">10<tspan font-size="11" dy="-6.5">12</tspan></text>
<line x1="471.30" y1="513.62" x2="471.30" y2="628.70" stroke="#000" stroke-width="2.2" stroke-linecap="butt"/>
<line x1="463.30" y1="627.60" x2="640.00" y2="627.60" stroke="#000" stroke-width="2.2" stroke-linecap="butt"/>
<line x1="463.30" y1="608.77" x2="471.30" y2="608.77" stroke="#000" stroke-width="2" stroke-linecap="butt"/>
<line x1="463.30" y1="589.94" x2="471.30" y2="589.94" stroke="#000" stroke-width="2" stroke-linecap="butt"/>
<line x1="463.30" y1="571.11" x2="471.30" y2="571.11" stroke="#000" stroke-width="2" stroke-linecap="butt"/>
<line x1="463.30" y1="552.28" x2="471.30" y2="552.28" stroke="#000" stroke-width="2" stroke-linecap="butt"/>
<line x1="463.30" y1="533.45" x2="471.30" y2="533.45" stroke="#000" stroke-width="2" stroke-linecap="butt"/>
<line x1="463.30" y1="514.62" x2="471.30" y2="514.62" stroke="#000" stroke-width="2" stroke-linecap="butt"/>
<line x1="485.00" y1="627.60" x2="485.00" y2="638.60" stroke="#000" stroke-width="2" stroke-linecap="butt"/>
<text x="482.60" y="657.30" font-size="19.5" text-anchor="middle" style="letter-spacing:0px">0.5</text>
<line x1="508.33" y1="627.60" x2="508.33" y2="633.60" stroke="#000" stroke-width="1.6" stroke-linecap="butt"/>
<line x1="531.67" y1="627.60" x2="531.67" y2="633.60" stroke="#000" stroke-width="1.6" stroke-linecap="butt"/>
<line x1="555.00" y1="627.60" x2="555.00" y2="638.60" stroke="#000" stroke-width="2" stroke-linecap="butt"/>
<text x="552.60" y="657.30" font-size="19.5" text-anchor="middle" style="letter-spacing:0px">1.0</text>
<line x1="578.33" y1="627.60" x2="578.33" y2="633.60" stroke="#000" stroke-width="1.6" stroke-linecap="butt"/>
<line x1="601.67" y1="627.60" x2="601.67" y2="633.60" stroke="#000" stroke-width="1.6" stroke-linecap="butt"/>
<line x1="625.00" y1="627.60" x2="625.00" y2="638.60" stroke="#000" stroke-width="2" stroke-linecap="butt"/>
<text x="622.60" y="657.30" font-size="19.5" text-anchor="middle" style="letter-spacing:0px">1.5</text>
<text x="546.30" y="511.00" font-size="19.5" text-anchor="middle">MOI: 2</text>
<text x="455.20" y="685.00" font-size="19.5" text-anchor="middle" style="letter-spacing:0.15px">Time postinfection (hrs)</text>
<line x1="288.70" y1="585.00" x2="288.70" y2="597.50" stroke="#8c8c8c" stroke-width="2.0" stroke-linecap="butt"/>
<line x1="284.30" y1="585.00" x2="293.10" y2="585.00" stroke="#8c8c8c" stroke-width="2.0" stroke-linecap="butt"/>
<line x1="284.30" y1="597.50" x2="293.10" y2="597.50" stroke="#8c8c8c" stroke-width="2.0" stroke-linecap="butt"/>
<line x1="359.50" y1="548.20" x2="359.50" y2="564.20" stroke="#8c8c8c" stroke-width="2.0" stroke-linecap="butt"/>
<line x1="355.10" y1="548.20" x2="363.90" y2="548.20" stroke="#8c8c8c" stroke-width="2.0" stroke-linecap="butt"/>
<line x1="355.10" y1="564.20" x2="363.90" y2="564.20" stroke="#8c8c8c" stroke-width="2.0" stroke-linecap="butt"/>
<line x1="430.10" y1="525.50" x2="430.10" y2="564.50" stroke="#8c8c8c" stroke-width="2.0" stroke-linecap="butt"/>
<line x1="425.70" y1="525.50" x2="434.50" y2="525.50" stroke="#8c8c8c" stroke-width="2.0" stroke-linecap="butt"/>
<line x1="425.70" y1="564.50" x2="434.50" y2="564.50" stroke="#8c8c8c" stroke-width="2.0" stroke-linecap="butt"/>
<polyline points="288.70,591.70 359.50,552.50 430.10,530.30" fill="none" stroke="#8c8c8c" stroke-width="2.3" stroke-linejoin="round"/>
<circle cx="288.70" cy="591.70" r="5.0" fill="#8c8c8c"/>
<circle cx="359.50" cy="552.50" r="5.0" fill="#8c8c8c"/>
<circle cx="430.10" cy="530.30" r="5.0" fill="#8c8c8c"/>
<line x1="288.70" y1="580.30" x2="288.70" y2="620.00" stroke="#000" stroke-width="2.0" stroke-linecap="butt"/>
<line x1="284.30" y1="580.30" x2="293.10" y2="580.30" stroke="#000" stroke-width="2.0" stroke-linecap="butt"/>
<line x1="284.30" y1="620.00" x2="293.10" y2="620.00" stroke="#000" stroke-width="2.0" stroke-linecap="butt"/>
<line x1="359.50" y1="604.60" x2="359.50" y2="610.50" stroke="#000" stroke-width="2.0" stroke-linecap="butt"/>
<line x1="355.10" y1="604.60" x2="363.90" y2="604.60" stroke="#000" stroke-width="2.0" stroke-linecap="butt"/>
<line x1="355.10" y1="610.50" x2="363.90" y2="610.50" stroke="#000" stroke-width="2.0" stroke-linecap="butt"/>
<line x1="430.10" y1="592.80" x2="430.10" y2="600.80" stroke="#000" stroke-width="2.0" stroke-linecap="butt"/>
<line x1="425.70" y1="592.80" x2="434.50" y2="592.80" stroke="#000" stroke-width="2.0" stroke-linecap="butt"/>
<line x1="425.70" y1="600.80" x2="434.50" y2="600.80" stroke="#000" stroke-width="2.0" stroke-linecap="butt"/>
<polyline points="288.70,585.80 359.50,604.60 430.10,592.80" fill="none" stroke="#000" stroke-width="2.3" stroke-linejoin="round"/>
<circle cx="288.70" cy="585.80" r="5.2" fill="#000"/>
<circle cx="359.50" cy="604.60" r="5.2" fill="#000"/>
<circle cx="430.10" cy="592.80" r="5.2" fill="#000"/>
<line x1="485.00" y1="582.70" x2="485.00" y2="609.30" stroke="#8c8c8c" stroke-width="2.0" stroke-linecap="butt"/>
<line x1="480.60" y1="582.70" x2="489.40" y2="582.70" stroke="#8c8c8c" stroke-width="2.0" stroke-linecap="butt"/>
<line x1="480.60" y1="609.30" x2="489.40" y2="609.30" stroke="#8c8c8c" stroke-width="2.0" stroke-linecap="butt"/>
<line x1="555.00" y1="525.80" x2="555.00" y2="558.80" stroke="#8c8c8c" stroke-width="2.0" stroke-linecap="butt"/>
<line x1="550.60" y1="525.80" x2="559.40" y2="525.80" stroke="#8c8c8c" stroke-width="2.0" stroke-linecap="butt"/>
<line x1="550.60" y1="558.80" x2="559.40" y2="558.80" stroke="#8c8c8c" stroke-width="2.0" stroke-linecap="butt"/>
<line x1="625.00" y1="525.80" x2="625.00" y2="562.80" stroke="#8c8c8c" stroke-width="2.0" stroke-linecap="butt"/>
<line x1="620.60" y1="525.80" x2="629.40" y2="525.80" stroke="#8c8c8c" stroke-width="2.0" stroke-linecap="butt"/>
<line x1="620.60" y1="562.80" x2="629.40" y2="562.80" stroke="#8c8c8c" stroke-width="2.0" stroke-linecap="butt"/>
<polyline points="485.00,586.70 555.00,531.30 625.00,531.30" fill="none" stroke="#8c8c8c" stroke-width="2.3" stroke-linejoin="round"/>
<circle cx="485.00" cy="586.70" r="5.0" fill="#8c8c8c"/>
<circle cx="555.00" cy="531.30" r="5.0" fill="#8c8c8c"/>
<circle cx="625.00" cy="531.30" r="5.0" fill="#8c8c8c"/>
<line x1="485.00" y1="590.00" x2="485.00" y2="601.70" stroke="#000" stroke-width="2.0" stroke-linecap="butt"/>
<line x1="480.60" y1="590.00" x2="489.40" y2="590.00" stroke="#000" stroke-width="2.0" stroke-linecap="butt"/>
<line x1="480.60" y1="601.70" x2="489.40" y2="601.70" stroke="#000" stroke-width="2.0" stroke-linecap="butt"/>
<line x1="555.00" y1="590.40" x2="555.00" y2="596.30" stroke="#000" stroke-width="2.0" stroke-linecap="butt"/>
<line x1="550.60" y1="590.40" x2="559.40" y2="590.40" stroke="#000" stroke-width="2.0" stroke-linecap="butt"/>
<line x1="550.60" y1="596.30" x2="559.40" y2="596.30" stroke="#000" stroke-width="2.0" stroke-linecap="butt"/>
<polyline points="485.00,590.00 555.00,590.40 625.00,588.20" fill="none" stroke="#000" stroke-width="2.3" stroke-linejoin="round"/>
<circle cx="485.00" cy="590.00" r="5.2" fill="#000"/>
<circle cx="555.00" cy="590.40" r="5.2" fill="#000"/>
<circle cx="625.00" cy="588.20" r="5.2" fill="#000"/>
<text x="7.90" y="717.50" font-size="40.5" font-weight="bold">F</text>
<line x1="80.10" y1="727.00" x2="80.10" y2="842.10" stroke="#000" stroke-width="2" stroke-linecap="butt"/>
<line x1="72.10" y1="841.20" x2="251.20" y2="841.20" stroke="#000" stroke-width="2" stroke-linecap="butt"/>
<line x1="72.10" y1="764.50" x2="80.10" y2="764.50" stroke="#000" stroke-width="1.8" stroke-linecap="butt"/>
<line x1="75.10" y1="818.11" x2="80.10" y2="818.11" stroke="#000" stroke-width="1.3" stroke-linecap="butt"/>
<line x1="75.10" y1="804.60" x2="80.10" y2="804.60" stroke="#000" stroke-width="1.3" stroke-linecap="butt"/>
<line x1="75.10" y1="795.02" x2="80.10" y2="795.02" stroke="#000" stroke-width="1.3" stroke-linecap="butt"/>
<line x1="75.10" y1="787.59" x2="80.10" y2="787.59" stroke="#000" stroke-width="1.3" stroke-linecap="butt"/>
<line x1="75.10" y1="781.52" x2="80.10" y2="781.52" stroke="#000" stroke-width="1.3" stroke-linecap="butt"/>
<line x1="75.10" y1="776.38" x2="80.10" y2="776.38" stroke="#000" stroke-width="1.3" stroke-linecap="butt"/>
<line x1="75.10" y1="771.93" x2="80.10" y2="771.93" stroke="#000" stroke-width="1.3" stroke-linecap="butt"/>
<line x1="75.10" y1="768.01" x2="80.10" y2="768.01" stroke="#000" stroke-width="1.3" stroke-linecap="butt"/>
<line x1="75.10" y1="741.41" x2="80.10" y2="741.41" stroke="#000" stroke-width="1.3" stroke-linecap="butt"/>
<line x1="75.10" y1="727.90" x2="80.10" y2="727.90" stroke="#000" stroke-width="1.3" stroke-linecap="butt"/>
<line x1="108.45" y1="841.20" x2="108.45" y2="849.50" stroke="#000" stroke-width="1.8" stroke-linecap="butt"/>
<text x="108.45" y="868.90" font-size="19.5" text-anchor="middle">4</text>
<line x1="136.80" y1="841.20" x2="136.80" y2="845.80" stroke="#000" stroke-width="1.5" stroke-linecap="butt"/>
<line x1="165.15" y1="841.20" x2="165.15" y2="849.50" stroke="#000" stroke-width="1.8" stroke-linecap="butt"/>
<text x="165.15" y="868.90" font-size="19.5" text-anchor="middle">6</text>
<line x1="193.50" y1="841.20" x2="193.50" y2="845.80" stroke="#000" stroke-width="1.5" stroke-linecap="butt"/>
<line x1="221.85" y1="841.20" x2="221.85" y2="849.50" stroke="#000" stroke-width="1.8" stroke-linecap="butt"/>
<text x="221.85" y="868.90" font-size="19.5" text-anchor="middle">8</text>
<line x1="250.20" y1="841.20" x2="250.20" y2="845.80" stroke="#000" stroke-width="1.5" stroke-linecap="butt"/>
<text x="156.30" y="720.50" font-size="19.5" text-anchor="middle">MOI: 0</text>
<line x1="273.70" y1="727.66" x2="273.70" y2="842.90" stroke="#000" stroke-width="2" stroke-linecap="butt"/>
<line x1="265.70" y1="842.00" x2="444.80" y2="842.00" stroke="#000" stroke-width="2" stroke-linecap="butt"/>
<line x1="265.70" y1="765.20" x2="273.70" y2="765.20" stroke="#000" stroke-width="1.8" stroke-linecap="butt"/>
<line x1="268.70" y1="818.88" x2="273.70" y2="818.88" stroke="#000" stroke-width="1.3" stroke-linecap="butt"/>
<line x1="268.70" y1="805.36" x2="273.70" y2="805.36" stroke="#000" stroke-width="1.3" stroke-linecap="butt"/>
<line x1="268.70" y1="795.76" x2="273.70" y2="795.76" stroke="#000" stroke-width="1.3" stroke-linecap="butt"/>
<line x1="268.70" y1="788.32" x2="273.70" y2="788.32" stroke="#000" stroke-width="1.3" stroke-linecap="butt"/>
<line x1="268.70" y1="782.24" x2="273.70" y2="782.24" stroke="#000" stroke-width="1.3" stroke-linecap="butt"/>
<line x1="268.70" y1="777.10" x2="273.70" y2="777.10" stroke="#000" stroke-width="1.3" stroke-linecap="butt"/>
<line x1="268.70" y1="772.64" x2="273.70" y2="772.64" stroke="#000" stroke-width="1.3" stroke-linecap="butt"/>
<line x1="268.70" y1="768.71" x2="273.70" y2="768.71" stroke="#000" stroke-width="1.3" stroke-linecap="butt"/>
<line x1="268.70" y1="742.08" x2="273.70" y2="742.08" stroke="#000" stroke-width="1.3" stroke-linecap="butt"/>
<line x1="268.70" y1="728.56" x2="273.70" y2="728.56" stroke="#000" stroke-width="1.3" stroke-linecap="butt"/>
<line x1="302.05" y1="842.00" x2="302.05" y2="850.30" stroke="#000" stroke-width="1.8" stroke-linecap="butt"/>
<text x="302.05" y="868.90" font-size="19.5" text-anchor="middle">4</text>
<line x1="330.40" y1="842.00" x2="330.40" y2="846.60" stroke="#000" stroke-width="1.5" stroke-linecap="butt"/>
<line x1="358.75" y1="842.00" x2="358.75" y2="850.30" stroke="#000" stroke-width="1.8" stroke-linecap="butt"/>
<text x="358.75" y="868.90" font-size="19.5" text-anchor="middle">6</text>
<line x1="387.10" y1="842.00" x2="387.10" y2="846.60" stroke="#000" stroke-width="1.5" stroke-linecap="butt"/>
<line x1="415.45" y1="842.00" x2="415.45" y2="850.30" stroke="#000" stroke-width="1.8" stroke-linecap="butt"/>
<text x="415.45" y="868.90" font-size="19.5" text-anchor="middle">8</text>
<line x1="443.80" y1="842.00" x2="443.80" y2="846.60" stroke="#000" stroke-width="1.5" stroke-linecap="butt"/>
<text x="353.90" y="720.50" font-size="19.5" text-anchor="middle">MOI: 0.2</text>
<line x1="466.50" y1="727.75" x2="466.50" y2="844.10" stroke="#000" stroke-width="2" stroke-linecap="butt"/>
<line x1="458.50" y1="843.20" x2="639.70" y2="843.20" stroke="#000" stroke-width="2" stroke-linecap="butt"/>
<line x1="458.50" y1="765.65" x2="466.50" y2="765.65" stroke="#000" stroke-width="1.8" stroke-linecap="butt"/>
<line x1="461.50" y1="819.86" x2="466.50" y2="819.86" stroke="#000" stroke-width="1.3" stroke-linecap="butt"/>
<line x1="461.50" y1="806.20" x2="466.50" y2="806.20" stroke="#000" stroke-width="1.3" stroke-linecap="butt"/>
<line x1="461.50" y1="796.51" x2="466.50" y2="796.51" stroke="#000" stroke-width="1.3" stroke-linecap="butt"/>
<line x1="461.50" y1="788.99" x2="466.50" y2="788.99" stroke="#000" stroke-width="1.3" stroke-linecap="butt"/>
<line x1="461.50" y1="782.85" x2="466.50" y2="782.85" stroke="#000" stroke-width="1.3" stroke-linecap="butt"/>
<line x1="461.50" y1="777.66" x2="466.50" y2="777.66" stroke="#000" stroke-width="1.3" stroke-linecap="butt"/>
<line x1="461.50" y1="773.17" x2="466.50" y2="773.17" stroke="#000" stroke-width="1.3" stroke-linecap="butt"/>
<line x1="461.50" y1="769.20" x2="466.50" y2="769.20" stroke="#000" stroke-width="1.3" stroke-linecap="butt"/>
<line x1="461.50" y1="742.31" x2="466.50" y2="742.31" stroke="#000" stroke-width="1.3" stroke-linecap="butt"/>
<line x1="461.50" y1="728.65" x2="466.50" y2="728.65" stroke="#000" stroke-width="1.3" stroke-linecap="butt"/>
<line x1="495.20" y1="843.20" x2="495.20" y2="851.50" stroke="#000" stroke-width="1.8" stroke-linecap="butt"/>
<text x="495.20" y="868.90" font-size="19.5" text-anchor="middle">4</text>
<line x1="523.90" y1="843.20" x2="523.90" y2="847.80" stroke="#000" stroke-width="1.5" stroke-linecap="butt"/>
<line x1="552.60" y1="843.20" x2="552.60" y2="851.50" stroke="#000" stroke-width="1.8" stroke-linecap="butt"/>
<text x="552.60" y="868.90" font-size="19.5" text-anchor="middle">6</text>
<line x1="581.30" y1="843.20" x2="581.30" y2="847.80" stroke="#000" stroke-width="1.5" stroke-linecap="butt"/>
<line x1="610.00" y1="843.20" x2="610.00" y2="851.50" stroke="#000" stroke-width="1.8" stroke-linecap="butt"/>
<text x="610.00" y="868.90" font-size="19.5" text-anchor="middle">8</text>
<line x1="638.70" y1="843.20" x2="638.70" y2="847.80" stroke="#000" stroke-width="1.5" stroke-linecap="butt"/>
<text x="546.30" y="720.50" font-size="19.5" text-anchor="middle">MOI: 2</text>
<text x="69.20" y="772.30" font-size="19.5" text-anchor="end">1</text>
<text x="69.20" y="849.00" font-size="19.5" text-anchor="end">0.1</text>
<text x="38.6" y="795" font-size="19.5" text-anchor="middle" transform="rotate(-90 38.6 795)">OD<tspan font-size="11" dy="7.5">600</tspan></text>
<text x="361.80" y="895.00" font-size="19.5" text-anchor="middle" style="letter-spacing:0px">Time (hrs)</text>
<line x1="108.45" y1="806.10" x2="108.45" y2="817.70" stroke="#8c8c8c" stroke-width="1.7" stroke-linecap="butt"/>
<line x1="105.45" y1="806.10" x2="111.45" y2="806.10" stroke="#8c8c8c" stroke-width="1.7" stroke-linecap="butt"/>
<line x1="105.45" y1="817.70" x2="111.45" y2="817.70" stroke="#8c8c8c" stroke-width="1.7" stroke-linecap="butt"/>
<line x1="165.15" y1="753.20" x2="165.15" y2="764.00" stroke="#8c8c8c" stroke-width="1.7" stroke-linecap="butt"/>
<line x1="162.15" y1="753.20" x2="168.15" y2="753.20" stroke="#8c8c8c" stroke-width="1.7" stroke-linecap="butt"/>
<line x1="162.15" y1="764.00" x2="168.15" y2="764.00" stroke="#8c8c8c" stroke-width="1.7" stroke-linecap="butt"/>
<line x1="179.32" y1="739.50" x2="179.32" y2="750.00" stroke="#8c8c8c" stroke-width="1.7" stroke-linecap="butt"/>
<line x1="176.32" y1="739.50" x2="182.32" y2="739.50" stroke="#8c8c8c" stroke-width="1.7" stroke-linecap="butt"/>
<line x1="176.32" y1="750.00" x2="182.32" y2="750.00" stroke="#8c8c8c" stroke-width="1.7" stroke-linecap="butt"/>
<line x1="193.50" y1="737.70" x2="193.50" y2="745.00" stroke="#8c8c8c" stroke-width="1.7" stroke-linecap="butt"/>
<line x1="190.50" y1="737.70" x2="196.50" y2="737.70" stroke="#8c8c8c" stroke-width="1.7" stroke-linecap="butt"/>
<line x1="190.50" y1="745.00" x2="196.50" y2="745.00" stroke="#8c8c8c" stroke-width="1.7" stroke-linecap="butt"/>
<polyline points="80.10,835.10 108.45,811.00 136.80,789.20 150.97,769.90 165.15,758.50 179.32,744.50 193.50,741.50 207.68,741.00 221.85,740.10" fill="none" stroke="#8c8c8c" stroke-width="2.2" stroke-linejoin="round"/>
<circle cx="80.10" cy="835.10" r="3.6" fill="#8c8c8c"/>
<circle cx="108.45" cy="811.00" r="3.6" fill="#8c8c8c"/>
<circle cx="136.80" cy="789.20" r="3.6" fill="#8c8c8c"/>
<circle cx="150.97" cy="769.90" r="3.6" fill="#8c8c8c"/>
<circle cx="165.15" cy="758.50" r="3.6" fill="#8c8c8c"/>
<circle cx="179.32" cy="744.50" r="3.6" fill="#8c8c8c"/>
<circle cx="193.50" cy="741.50" r="3.6" fill="#8c8c8c"/>
<circle cx="207.68" cy="741.00" r="3.6" fill="#8c8c8c"/>
<circle cx="221.85" cy="740.10" r="3.6" fill="#8c8c8c"/>
<line x1="179.32" y1="741.40" x2="179.32" y2="753.50" stroke="#000" stroke-width="1.7" stroke-linecap="butt"/>
<line x1="176.32" y1="741.40" x2="182.32" y2="741.40" stroke="#000" stroke-width="1.7" stroke-linecap="butt"/>
<line x1="176.32" y1="753.50" x2="182.32" y2="753.50" stroke="#000" stroke-width="1.7" stroke-linecap="butt"/>
<line x1="165.15" y1="754.50" x2="165.15" y2="761.00" stroke="#000" stroke-width="1.7" stroke-linecap="butt"/>
<line x1="162.15" y1="754.50" x2="168.15" y2="754.50" stroke="#000" stroke-width="1.7" stroke-linecap="butt"/>
<line x1="162.15" y1="761.00" x2="168.15" y2="761.00" stroke="#000" stroke-width="1.7" stroke-linecap="butt"/>
<polyline points="80.10,835.10 108.45,810.30 136.80,789.20 150.97,769.90 165.15,757.70 179.32,746.80 193.50,743.20 207.68,741.70 221.85,740.10" fill="none" stroke="#000" stroke-width="2.2" stroke-linejoin="round"/>
<circle cx="80.10" cy="835.10" r="3.6" fill="#000"/>
<circle cx="108.45" cy="810.30" r="3.6" fill="#000"/>
<circle cx="136.80" cy="789.20" r="3.6" fill="#000"/>
<circle cx="150.97" cy="769.90" r="3.6" fill="#000"/>
<circle cx="165.15" cy="757.70" r="3.6" fill="#000"/>
<circle cx="179.32" cy="746.80" r="3.6" fill="#000"/>
<circle cx="193.50" cy="743.20" r="3.6" fill="#000"/>
<circle cx="207.68" cy="741.70" r="3.6" fill="#000"/>
<circle cx="221.85" cy="740.10" r="3.6" fill="#000"/>
<line x1="358.75" y1="758.30" x2="358.75" y2="766.00" stroke="#8c8c8c" stroke-width="1.7" stroke-linecap="butt"/>
<line x1="355.75" y1="758.30" x2="361.75" y2="758.30" stroke="#8c8c8c" stroke-width="1.7" stroke-linecap="butt"/>
<line x1="355.75" y1="766.00" x2="361.75" y2="766.00" stroke="#8c8c8c" stroke-width="1.7" stroke-linecap="butt"/>
<line x1="372.93" y1="771.70" x2="372.93" y2="779.50" stroke="#8c8c8c" stroke-width="1.7" stroke-linecap="butt"/>
<line x1="369.93" y1="771.70" x2="375.93" y2="771.70" stroke="#8c8c8c" stroke-width="1.7" stroke-linecap="butt"/>
<line x1="369.93" y1="779.50" x2="375.93" y2="779.50" stroke="#8c8c8c" stroke-width="1.7" stroke-linecap="butt"/>
<line x1="387.10" y1="779.50" x2="387.10" y2="783.00" stroke="#8c8c8c" stroke-width="1.7" stroke-linecap="butt"/>
<line x1="384.10" y1="779.50" x2="390.10" y2="779.50" stroke="#8c8c8c" stroke-width="1.7" stroke-linecap="butt"/>
<line x1="384.10" y1="783.00" x2="390.10" y2="783.00" stroke="#8c8c8c" stroke-width="1.7" stroke-linecap="butt"/>
<line x1="401.27" y1="777.60" x2="401.27" y2="788.20" stroke="#8c8c8c" stroke-width="1.7" stroke-linecap="butt"/>
<line x1="398.27" y1="777.60" x2="404.27" y2="777.60" stroke="#8c8c8c" stroke-width="1.7" stroke-linecap="butt"/>
<line x1="398.27" y1="788.20" x2="404.27" y2="788.20" stroke="#8c8c8c" stroke-width="1.7" stroke-linecap="butt"/>
<line x1="415.45" y1="780.80" x2="415.45" y2="791.40" stroke="#8c8c8c" stroke-width="1.7" stroke-linecap="butt"/>
<line x1="412.45" y1="780.80" x2="418.45" y2="780.80" stroke="#8c8c8c" stroke-width="1.7" stroke-linecap="butt"/>
<line x1="412.45" y1="791.40" x2="418.45" y2="791.40" stroke="#8c8c8c" stroke-width="1.7" stroke-linecap="butt"/>
<polyline points="273.70,834.60 302.05,812.10 330.40,788.60 344.57,771.00 358.75,762.10 372.93,774.90 387.10,781.20 401.27,782.30 415.45,786.10" fill="none" stroke="#8c8c8c" stroke-width="2.2" stroke-linejoin="round"/>
<circle cx="273.70" cy="834.60" r="3.6" fill="#8c8c8c"/>
<circle cx="302.05" cy="812.10" r="3.6" fill="#8c8c8c"/>
<circle cx="330.40" cy="788.60" r="3.6" fill="#8c8c8c"/>
<circle cx="344.57" cy="771.00" r="3.6" fill="#8c8c8c"/>
<circle cx="358.75" cy="762.10" r="3.6" fill="#8c8c8c"/>
<circle cx="372.93" cy="774.90" r="3.6" fill="#8c8c8c"/>
<circle cx="387.10" cy="781.20" r="3.6" fill="#8c8c8c"/>
<circle cx="401.27" cy="782.30" r="3.6" fill="#8c8c8c"/>
<circle cx="415.45" cy="786.10" r="3.6" fill="#8c8c8c"/>
<line x1="358.75" y1="760.00" x2="358.75" y2="770.00" stroke="#000" stroke-width="1.7" stroke-linecap="butt"/>
<line x1="355.75" y1="760.00" x2="361.75" y2="760.00" stroke="#000" stroke-width="1.7" stroke-linecap="butt"/>
<line x1="355.75" y1="770.00" x2="361.75" y2="770.00" stroke="#000" stroke-width="1.7" stroke-linecap="butt"/>
<line x1="372.93" y1="745.60" x2="372.93" y2="765.70" stroke="#000" stroke-width="1.7" stroke-linecap="butt"/>
<line x1="369.93" y1="745.60" x2="375.93" y2="745.60" stroke="#000" stroke-width="1.7" stroke-linecap="butt"/>
<line x1="369.93" y1="765.70" x2="375.93" y2="765.70" stroke="#000" stroke-width="1.7" stroke-linecap="butt"/>
<line x1="387.10" y1="744.50" x2="387.10" y2="768.00" stroke="#000" stroke-width="1.7" stroke-linecap="butt"/>
<line x1="384.10" y1="744.50" x2="390.10" y2="744.50" stroke="#000" stroke-width="1.7" stroke-linecap="butt"/>
<line x1="384.10" y1="768.00" x2="390.10" y2="768.00" stroke="#000" stroke-width="1.7" stroke-linecap="butt"/>
<line x1="401.27" y1="739.80" x2="401.27" y2="762.80" stroke="#000" stroke-width="1.7" stroke-linecap="butt"/>
<line x1="398.27" y1="739.80" x2="404.27" y2="739.80" stroke="#000" stroke-width="1.7" stroke-linecap="butt"/>
<line x1="398.27" y1="762.80" x2="404.27" y2="762.80" stroke="#000" stroke-width="1.7" stroke-linecap="butt"/>
<line x1="415.45" y1="739.80" x2="415.45" y2="756.40" stroke="#000" stroke-width="1.7" stroke-linecap="butt"/>
<line x1="412.45" y1="739.80" x2="418.45" y2="739.80" stroke="#000" stroke-width="1.7" stroke-linecap="butt"/>
<line x1="412.45" y1="756.40" x2="418.45" y2="756.40" stroke="#000" stroke-width="1.7" stroke-linecap="butt"/>
<polyline points="273.70,834.60 302.05,812.10 330.40,788.60 344.57,771.00 358.75,763.80 372.93,754.70 387.10,754.30 401.27,749.40 415.45,746.80" fill="none" stroke="#000" stroke-width="2.2" stroke-linejoin="round"/>
<circle cx="273.70" cy="834.60" r="3.6" fill="#000"/>
<circle cx="302.05" cy="812.10" r="3.6" fill="#000"/>
<circle cx="330.40" cy="788.60" r="3.6" fill="#000"/>
<circle cx="344.57" cy="771.00" r="3.6" fill="#000"/>
<circle cx="358.75" cy="763.80" r="3.6" fill="#000"/>
<circle cx="372.93" cy="754.70" r="3.6" fill="#000"/>
<circle cx="387.10" cy="754.30" r="3.6" fill="#000"/>
<circle cx="401.27" cy="749.40" r="3.6" fill="#000"/>
<circle cx="415.45" cy="746.80" r="3.6" fill="#000"/>
<text x="333.60" y="748.00" font-size="19.5" text-anchor="middle" style="letter-spacing:-0.35px">SPP1</text>
<polygon points="328.80,751.50 332.60,751.50 332.60,764.00 337.60,764.00 330.70,775.50 323.80,764.00 328.80,764.00" fill="#231f20"/>
<line x1="495.20" y1="810.00" x2="495.20" y2="817.00" stroke="#8c8c8c" stroke-width="1.7" stroke-linecap="butt"/>
<line x1="492.20" y1="810.00" x2="498.20" y2="810.00" stroke="#8c8c8c" stroke-width="1.7" stroke-linecap="butt"/>
<line x1="492.20" y1="817.00" x2="498.20" y2="817.00" stroke="#8c8c8c" stroke-width="1.7" stroke-linecap="butt"/>
<line x1="552.60" y1="769.40" x2="552.60" y2="786.00" stroke="#8c8c8c" stroke-width="1.7" stroke-linecap="butt"/>
<line x1="549.60" y1="769.40" x2="555.60" y2="769.40" stroke="#8c8c8c" stroke-width="1.7" stroke-linecap="butt"/>
<line x1="549.60" y1="786.00" x2="555.60" y2="786.00" stroke="#8c8c8c" stroke-width="1.7" stroke-linecap="butt"/>
<line x1="566.95" y1="787.00" x2="566.95" y2="799.00" stroke="#8c8c8c" stroke-width="1.7" stroke-linecap="butt"/>
<line x1="563.95" y1="787.00" x2="569.95" y2="787.00" stroke="#8c8c8c" stroke-width="1.7" stroke-linecap="butt"/>
<line x1="563.95" y1="799.00" x2="569.95" y2="799.00" stroke="#8c8c8c" stroke-width="1.7" stroke-linecap="butt"/>
<polyline points="466.50,835.20 495.20,813.30 523.90,789.70 538.25,773.00 552.60,777.60 566.95,792.70 581.30,789.00 595.65,788.30 610.00,788.30" fill="none" stroke="#8c8c8c" stroke-width="2.2" stroke-linejoin="round"/>
<circle cx="466.50" cy="835.20" r="3.6" fill="#8c8c8c"/>
<circle cx="495.20" cy="813.30" r="3.6" fill="#8c8c8c"/>
<circle cx="523.90" cy="789.70" r="3.6" fill="#8c8c8c"/>
<circle cx="538.25" cy="773.00" r="3.6" fill="#8c8c8c"/>
<circle cx="552.60" cy="777.60" r="3.6" fill="#8c8c8c"/>
<circle cx="566.95" cy="792.70" r="3.6" fill="#8c8c8c"/>
<circle cx="581.30" cy="789.00" r="3.6" fill="#8c8c8c"/>
<circle cx="595.65" cy="788.30" r="3.6" fill="#8c8c8c"/>
<circle cx="610.00" cy="788.30" r="3.6" fill="#8c8c8c"/>
<line x1="495.20" y1="812.00" x2="495.20" y2="819.50" stroke="#000" stroke-width="1.7" stroke-linecap="butt"/>
<line x1="492.20" y1="812.00" x2="498.20" y2="812.00" stroke="#000" stroke-width="1.7" stroke-linecap="butt"/>
<line x1="492.20" y1="819.50" x2="498.20" y2="819.50" stroke="#000" stroke-width="1.7" stroke-linecap="butt"/>
<line x1="552.60" y1="782.70" x2="552.60" y2="807.00" stroke="#000" stroke-width="1.7" stroke-linecap="butt"/>
<line x1="549.60" y1="782.70" x2="555.60" y2="782.70" stroke="#000" stroke-width="1.7" stroke-linecap="butt"/>
<line x1="549.60" y1="807.00" x2="555.60" y2="807.00" stroke="#000" stroke-width="1.7" stroke-linecap="butt"/>
<line x1="566.95" y1="782.70" x2="566.95" y2="800.30" stroke="#000" stroke-width="1.7" stroke-linecap="butt"/>
<line x1="563.95" y1="782.70" x2="569.95" y2="782.70" stroke="#000" stroke-width="1.7" stroke-linecap="butt"/>
<line x1="563.95" y1="800.30" x2="569.95" y2="800.30" stroke="#000" stroke-width="1.7" stroke-linecap="butt"/>
<line x1="581.30" y1="780.60" x2="581.30" y2="789.00" stroke="#000" stroke-width="1.7" stroke-linecap="butt"/>
<line x1="578.30" y1="780.60" x2="584.30" y2="780.60" stroke="#000" stroke-width="1.7" stroke-linecap="butt"/>
<line x1="578.30" y1="789.00" x2="584.30" y2="789.00" stroke="#000" stroke-width="1.7" stroke-linecap="butt"/>
<line x1="595.65" y1="780.60" x2="595.65" y2="789.00" stroke="#000" stroke-width="1.7" stroke-linecap="butt"/>
<line x1="592.65" y1="780.60" x2="598.65" y2="780.60" stroke="#000" stroke-width="1.7" stroke-linecap="butt"/>
<line x1="592.65" y1="789.00" x2="598.65" y2="789.00" stroke="#000" stroke-width="1.7" stroke-linecap="butt"/>
<line x1="610.00" y1="780.60" x2="610.00" y2="789.00" stroke="#000" stroke-width="1.7" stroke-linecap="butt"/>
<line x1="607.00" y1="780.60" x2="613.00" y2="780.60" stroke="#000" stroke-width="1.7" stroke-linecap="butt"/>
<line x1="607.00" y1="789.00" x2="613.00" y2="789.00" stroke="#000" stroke-width="1.7" stroke-linecap="butt"/>
<polyline points="466.50,835.20 495.20,815.50 523.90,789.70 538.25,774.00 552.60,792.10 566.95,791.20 581.30,785.20 595.65,784.50 610.00,784.50" fill="none" stroke="#000" stroke-width="2.2" stroke-linejoin="round"/>
<circle cx="466.50" cy="835.20" r="3.6" fill="#000"/>
<circle cx="495.20" cy="815.50" r="3.6" fill="#000"/>
<circle cx="523.90" cy="789.70" r="3.6" fill="#000"/>
<circle cx="538.25" cy="774.00" r="3.6" fill="#000"/>
<circle cx="552.60" cy="792.10" r="3.6" fill="#000"/>
<circle cx="566.95" cy="791.20" r="3.6" fill="#000"/>
<circle cx="581.30" cy="785.20" r="3.6" fill="#000"/>
<circle cx="595.65" cy="784.50" r="3.6" fill="#000"/>
<circle cx="610.00" cy="784.50" r="3.6" fill="#000"/>
<text x="528.30" y="748.20" font-size="19.5" text-anchor="middle" style="letter-spacing:-0.35px">SPP1</text>
<polygon points="522.00,752.20 525.80,752.20 525.80,763.80 530.80,763.80 523.90,775.30 517.00,763.80 522.00,763.80" fill="#231f20"/>
</g></svg></body></html>
